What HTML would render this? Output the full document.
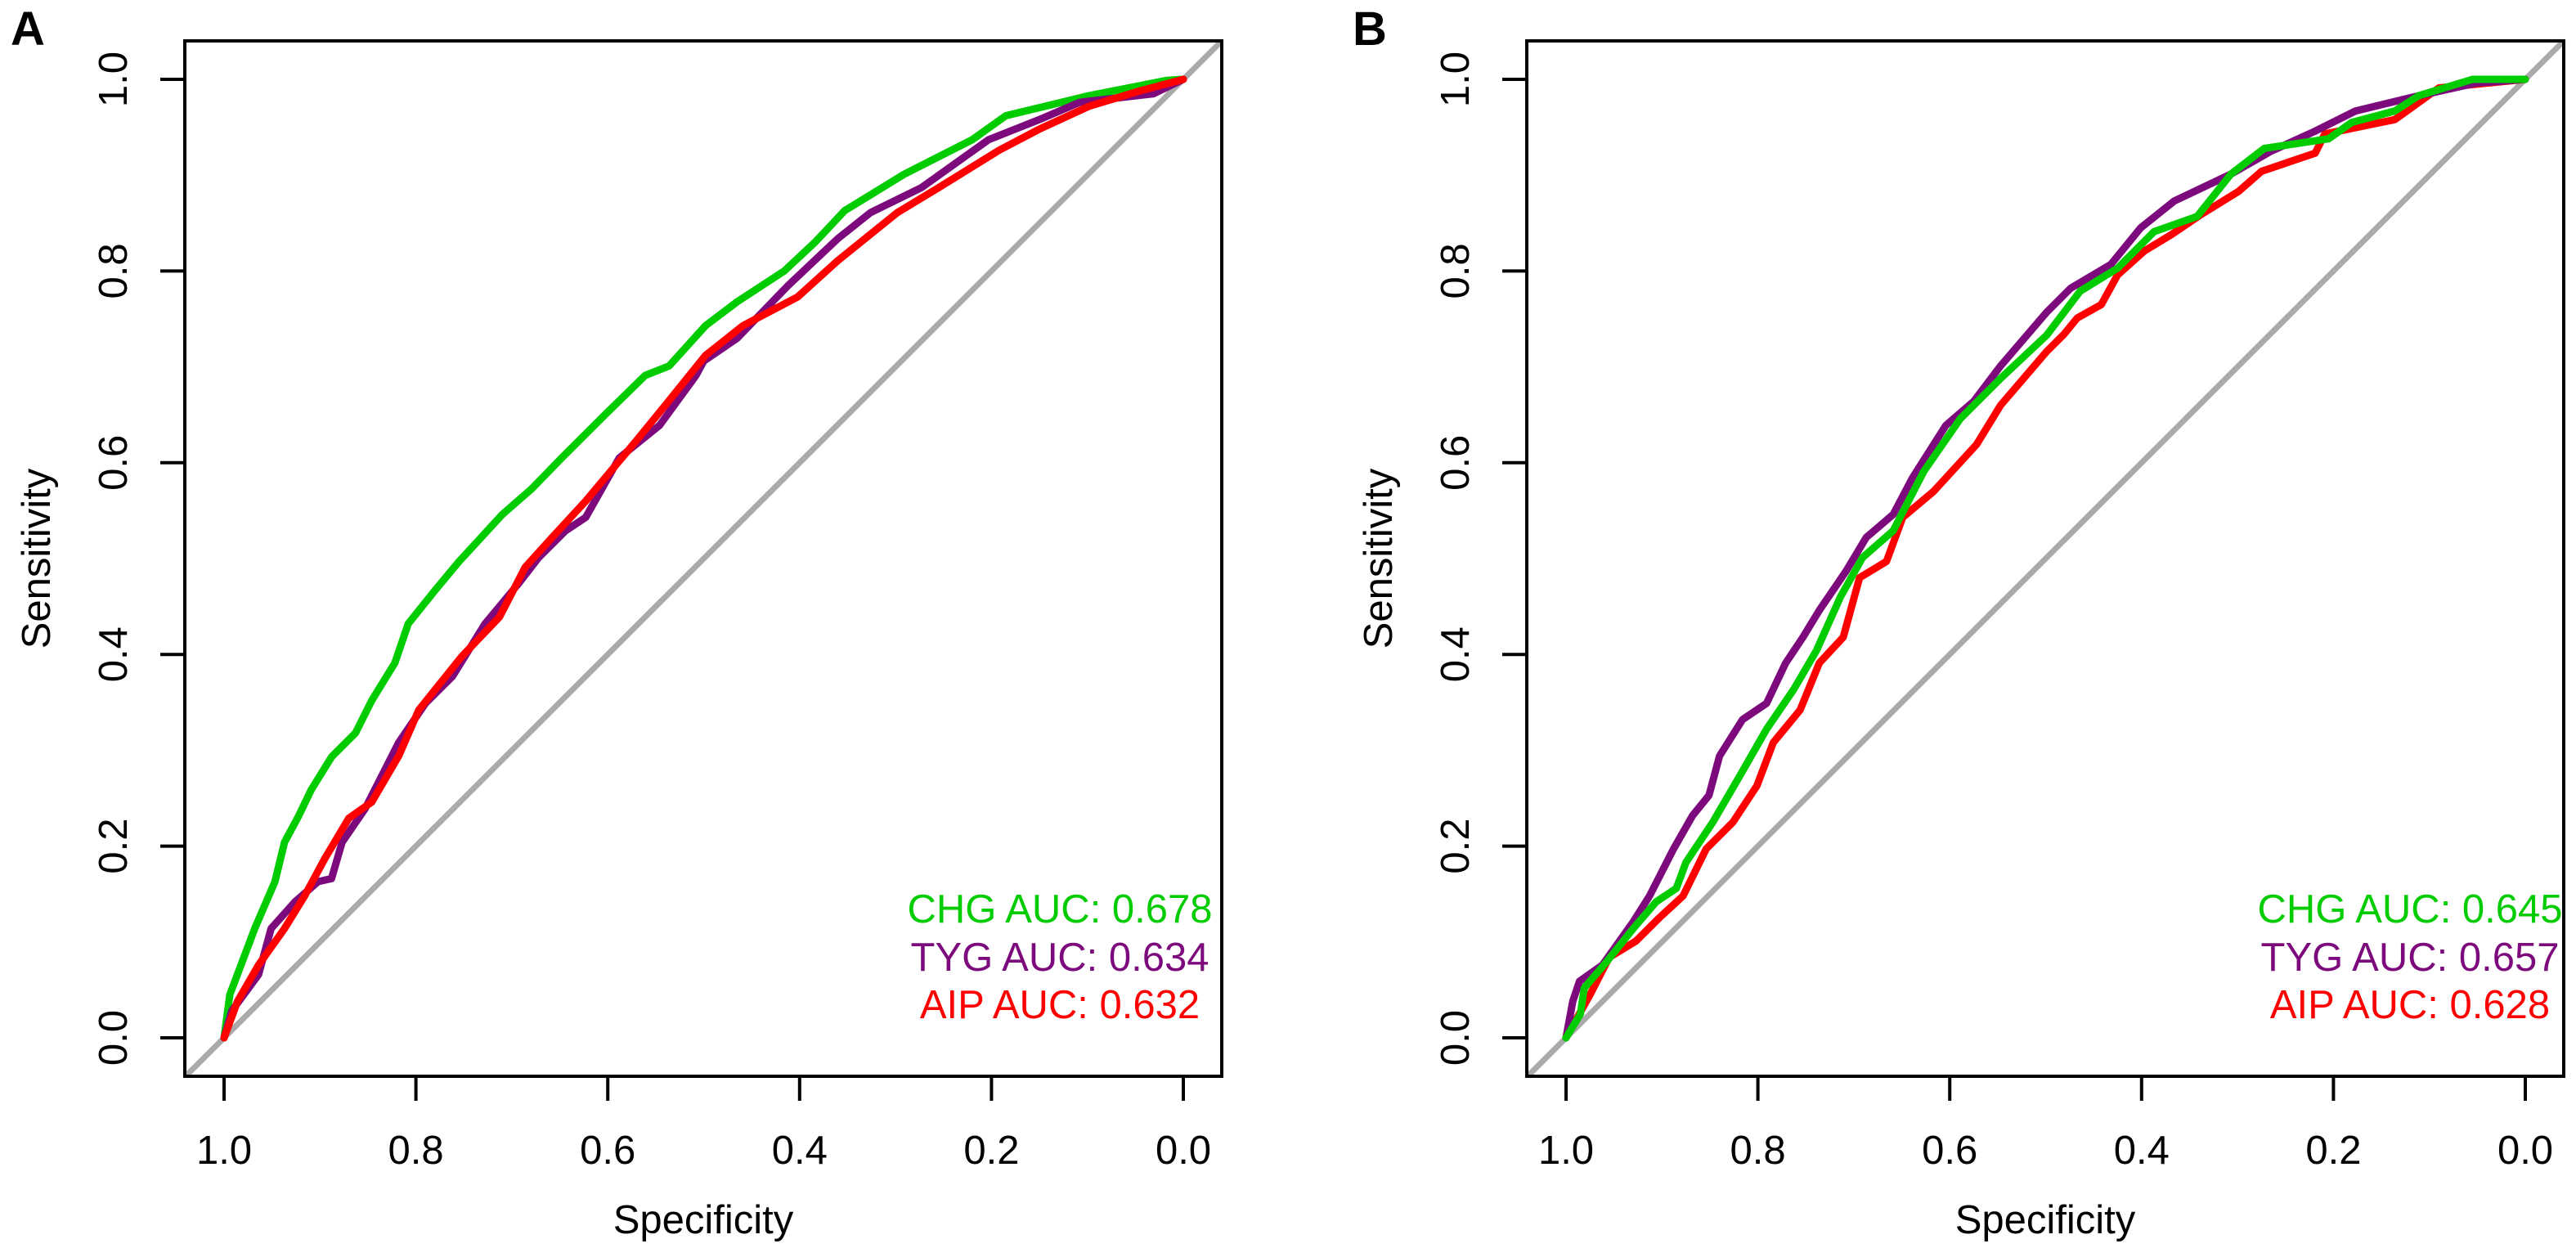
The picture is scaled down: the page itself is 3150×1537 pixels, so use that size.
<!DOCTYPE html>
<html><head><meta charset="utf-8"><style>
html,body{margin:0;padding:0;background:#fff;}
svg{display:block;}
text{font-family:"Liberation Sans",Arial,sans-serif;}
</style></head>
<body>
<svg id="chart" width="3150" height="1537" viewBox="0 0 3150 1537" xmlns="http://www.w3.org/2000/svg">
<rect x="0" y="0" width="3150" height="1537" fill="#fff"/>
</svg>
<script>
// ---- data (x = 1 - specificity, y = sensitivity) ----
const panelLabels = ["A", "B"];
const tickValues = [1.0, 0.8, 0.6, 0.4, 0.2, 0.0];
const tickLabels = ["1.0", "0.8", "0.6", "0.4", "0.2", "0.0"];
const ytickValues = [0.0, 0.2, 0.4, 0.6, 0.8, 1.0];
const ytickLabels = ["0.0", "0.2", "0.4", "0.6", "0.8", "1.0"];
const seriesNames = ["CHG", "TYG", "AIP"];
const aucA = ["0.678", "0.634", "0.632"];
const aucB = ["0.645", "0.657", "0.628"];

const chgA_fpr = [0,.006,.032,.053,.063,.078,.091,.112,.137,.154,.178,.192,.220,.245,.290,.321,.352,.397,.439,.464,.502,.535,.584,.616,.647,.709,.780,.815,.902,.983,1];
const chgA_sens = [0,.045,.114,.163,.204,.232,.259,.293,.318,.352,.391,.432,.467,.497,.546,.573,.605,.650,.691,.701,.743,.768,.800,.830,.863,.901,.937,.962,.983,.999,1];
const tygA_fpr = [0,.008,.036,.049,.074,.098,.112,.123,.147,.182,.210,.238,.272,.307,.328,.356,.377,.412,.454,.492,.500,.535,.587,.640,.674,.727,.797,.850,.892,.969,1];
const tygA_sens = [0,.028,.066,.114,.142,.163,.166,.204,.239,.308,.349,.377,.432,.474,.501,.529,.543,.605,.639,.691,.706,.730,.784,.834,.861,.887,.937,.958,.976,.985,1];
const aipA_fpr = [0,.014,.036,.063,.084,.105,.130,.154,.182,.203,.223,.248,.287,.314,.342,.377,.429,.460,.502,.541,.598,.640,.702,.745,.808,.850,.902,.955,1];
const aipA_sens = [0,.038,.076,.114,.148,.187,.229,.246,.294,.342,.367,.398,.439,.491,.522,.560,.622,.660,.712,.743,.773,.811,.861,.887,.926,.948,.972,.988,1];

const chgB_fpr = [0,.015,.019,.042,.070,.094,.115,.125,.153,.181,.209,.237,.261,.286,.309,.341,.373,.411,.453,.501,.536,.575,.613,.658,.693,.728,.795,.819,.864,.889,.945,1];
const chgB_sens = [0,.025,.052,.079,.114,.142,.156,.183,.225,.273,.322,.363,.404,.460,.501,.529,.591,.646,.688,.733,.779,.803,.841,.857,.901,.928,.938,.955,.967,.983,1.0,1];
const tygB_fpr = [0,.007,.014,.038,.070,.087,.112,.132,.149,.160,.184,.209,.229,.247,.264,.292,.313,.341,.361,.396,.425,.453,.501,.526,.568,.599,.634,.693,.735,.781,.823,.881,.948,1];
const tygB_sens = [0,.038,.059,.076,.121,.148,.197,.232,.253,.294,.332,.349,.391,.418,.446,.487,.522,.546,.584,.639,.664,.701,.757,.782,.807,.845,.873,.901,.925,.946,.967,.981,.996,1];
const aipB_fpr = [0,.010,.025,.045,.073,.097,.122,.146,.174,.199,.216,.244,.264,.289,.306,.334,.351,.383,.428,.453,.501,.519,.533,.558,.575,.603,.631,.662,.701,.725,.781,.791,.864,.910,1];
const aipB_sens = [0,.018,.045,.084,.101,.125,.148,.197,.225,.263,.308,.342,.391,.418,.480,.497,.543,.570,.619,.660,.716,.734,.751,.765,.796,.821,.838,.859,.883,.904,.923,.943,.958,.991,1];

const colors = {CHG:"#00cc00", TYG:"#7d0a7d", AIP:"#ff0000"};
const NS = "http://www.w3.org/2000/svg";
const svg = document.getElementById("chart");

function el(tag, attrs, parent) {
  const e = document.createElementNS(NS, tag);
  for (const k in attrs) e.setAttribute(k, attrs[k]);
  (parent || svg).appendChild(e);
  return e;
}

const offsets = [0, 1641];
const panels = [
  {series: [["CHG", chgA_fpr, chgA_sens], ["TYG", tygA_fpr, tygA_sens], ["AIP", aipA_fpr, aipA_sens]], auc: aucA, legendX: 1296},
  {series: [["AIP", aipB_fpr, aipB_sens], ["TYG", tygB_fpr, tygB_sens], ["CHG", chgB_fpr, chgB_sens]], auc: aucB, legendX: 2947}
];

panels.forEach((p, pi) => {
  const off = offsets[pi];
  const xS = spec => off + 274 + (1 - spec) * 1173;
  const yS = s => 1269 - s * 1172;
  const g = el("g", {});
  
  

  const lbl = el("text", {x: off + 13, y: 55, "font-size": 58, "font-weight": "bold", fill: "#000"}, g);
  lbl.textContent = panelLabels[pi];
  
  

  const diag = el("line", {x1: xS(1.04), y1: yS(-0.04), x2: xS(-0.04), y2: yS(1.04), stroke: "#aaaaaa", "stroke-width": 7}, g);
  
  

  p.series.forEach(([name, fx, sy]) => {
    const pts = fx.map((f, i) => xS(1 - f).toFixed(1) + "," + yS(sy[i]).toFixed(1)).join(" ");
    const pl = el("polyline", {points: pts, fill: "none", stroke: colors[name], "stroke-width": 9, "stroke-linejoin": "round", "stroke-linecap": "round"}, g);
    
    
  });

  const box = el("rect", {x: off + 226, y: 50, width: 1268, height: 1266, fill: "none", stroke: "#000", "stroke-width": 4}, g);
  
  

  tickValues.forEach((v, i) => {
    const t = el("line", {x1: xS(v), y1: 1316, x2: xS(v), y2: 1346, stroke: "#000", "stroke-width": 4}, g);
    
    
    const tx = el("text", {x: xS(v), y: 1423, "font-size": 49, "text-anchor": "middle"}, g);
    tx.textContent = tickLabels[i];
    
    
  });
  ytickValues.forEach((v, i) => {
    const t = el("line", {x1: off + 196, y1: yS(v), x2: off + 226, y2: yS(v), stroke: "#000", "stroke-width": 4}, g);
    
    
    const tx = el("text", {x: 0, y: 0, "font-size": 49, "text-anchor": "middle", transform: `translate(${off + 155},${yS(v)}) rotate(-90)`}, g);
    tx.textContent = ytickLabels[i];
    
    
  });

  const xt = el("text", {x: off + 860, y: 1508, "font-size": 49, "text-anchor": "middle"}, g);
  xt.textContent = "Specificity";
  
  
  const yt = el("text", {x: 0, y: 0, "font-size": 49, "text-anchor": "middle", transform: `translate(${off + 61},683) rotate(-90)`}, g);
  yt.textContent = "Sensitivity";
  
  

  const ys = [1128, 1187, 1245];
  seriesNames.forEach((n, i) => {
    const t = el("text", {x: p.legendX, y: ys[i], "font-size": 49, "text-anchor": "middle", fill: colors[n]}, g);
    t.textContent = n + " AUC: " + p.auc[i];
    
    
  });
});
</script>
</body></html>
